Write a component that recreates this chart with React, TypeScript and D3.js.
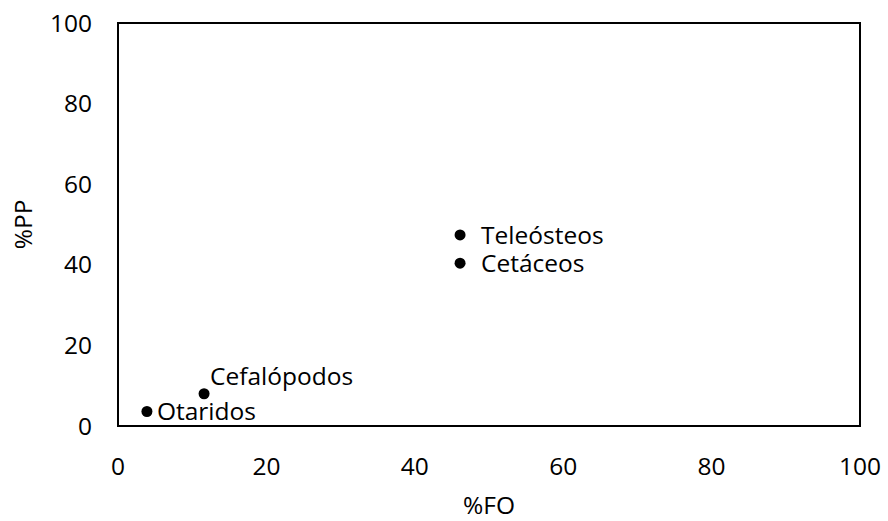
import React from "react";
import * as d3 from "d3";

const names = ["Teleósteos", "Cetáceos", "Cefalópodos", "Otaridos"];
const fo = [46.1, 46.1, 11.6, 3.9];
const pp = [47.4, 40.4, 8.0, 3.6];
const labelPos = ["right", "right", "above", "right"];
const ticks = [0, 20, 40, 60, 80, 100];

const W = 888, H = 521;
const M = { left: 118, right: 28, top: 23, bottom: 95 };
const FONT = "Open Sans, sans-serif";
const FS = 24.5;

export default function App() {
  const x = d3.scaleLinear().domain([0, 100]).range([M.left, W - M.right]);
  const y = d3.scaleLinear().domain([0, 100]).range([H - M.bottom, M.top]);
  return (
    <svg width={W} height={H} style={{ position: "absolute", left: 0, top: 0 }} fontFamily={FONT}>
      <rect x={M.left} y={M.top} width={x(100) - x(0)} height={y(0) - y(100)} fill="none" stroke="#000" strokeWidth={2} />
      {ticks.map((t) => (
        <text key={"y" + t} x={92} y={y(t)} dy="0.35em" textAnchor="end" fontSize={FS} fill="#000">{t}</text>
      ))}
      {ticks.map((t) => (
        <text key={"x" + t} x={x(t)} y={y(0) + 40} dy="0.35em" textAnchor="middle" fontSize={FS} fill="#000">{t}</text>
      ))}
      <text x={(x(0) + x(100)) / 2} y={514} textAnchor="middle" fontSize={FS}>%FO</text>
      <text transform={`translate(23,${(y(0) + y(100)) / 2}) rotate(-90)`} dy="0.35em" textAnchor="middle" fontSize={FS}>%PP</text>
      {names.map((n, i) => (
        <g key={n}>
          <circle cx={x(fo[i])} cy={y(pp[i])} r={5.5} fill="#000" />
          {labelPos[i] === "right" ? (
            <text x={x(fo[i]) + (i < 2 ? 21 : 10)} y={y(pp[i])} dy="0.35em" fontSize={FS}>{n}</text>
          ) : (
            <text x={x(fo[i]) + 6} y={y(pp[i]) - 9} fontSize={FS}>{n}</text>
          )}
        </g>
      ))}
    </svg>
  );
}
